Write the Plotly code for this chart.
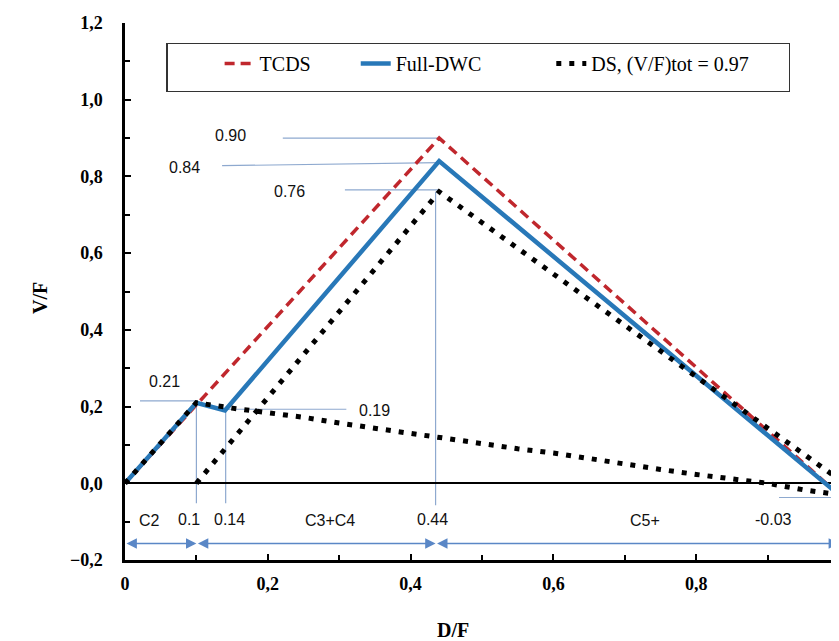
import plotly.graph_objects as go

# ---- data ----
tcds_x = [0.0, 0.44, 1.0]
tcds_y = [0.0, 0.90, -0.03]

dwc_x = [0.0, 0.10, 0.14, 0.44, 1.0]
dwc_y = [0.0, 0.21, 0.19, 0.84, -0.03]

# DS curve, two branches (separated by None)
ds_x = [0.0, 0.10, 0.15, 0.20, 0.25, 0.30, 0.35, 0.40, 0.45, 0.50, 0.55, 0.60,
        0.65, 0.70, 0.75, 0.80, 0.85, 0.90, 0.95, 1.0,
        None, 0.10, 0.44, 1.0]
ds_y = [0.0, 0.21, 0.196, 0.185, 0.172, 0.157, 0.145, 0.13, 0.117, 0.103, 0.09, 0.079,
        0.064, 0.049, 0.036, 0.023, 0.011, 0.0, -0.017, -0.03,
        None, 0.0, 0.76, 0.01]

series_names = ["TCDS", "Full-DWC", "DS, (V/F)tot = 0.97"]

# value callouts: (text, x, y)
value_labels = [("0.90", 0.148, 0.906), ("0.84", 0.084, 0.822), ("0.76", 0.231, 0.762),
                ("0.21", 0.056, 0.266), ("0.19", 0.350, 0.190),
                ("0.1", 0.090, -0.094), ("0.14", 0.146, -0.094), ("0.44", 0.431, -0.094),
                ("-0.03", 0.908, -0.094)]
region_labels = [("C2", 0.035, -0.097), ("C3+C4", 0.287, -0.097), ("C5+", 0.728, -0.097)]
region_bounds = [0.0, 0.10, 0.435, 1.0]

LINE_C = "#8EA9CF"
ARROW_C = "#5A87C6"
RED = "#C0272D"
BLUE = "#2878B8"
NB = "\u00a0"
pads = [8, 13, 7]  # trailing spacing inside the legend entries (layout only)

fig = go.Figure()
fig.add_trace(go.Scatter(x=tcds_x, y=tcds_y, mode="lines", name=series_names[0] + NB * pads[0],
                         line=dict(color=RED, width=3.5, dash="10px,6px")))
fig.add_trace(go.Scatter(x=dwc_x, y=dwc_y, mode="lines", name=series_names[1] + NB * pads[1],
                         line=dict(color=BLUE, width=4.5)))
fig.add_trace(go.Scatter(x=ds_x, y=ds_y, mode="lines", name=series_names[2] + NB * pads[2],
                         line=dict(color="black", width=5, dash="5px,8px")))

shapes = []
def seg(x0, y0, x1, y1):
    shapes.append(dict(type="line", xref="x", yref="y", x0=x0, y0=y0, x1=x1, y1=y1,
                       line=dict(color=LINE_C, width=1.2), layer="below"))

seg(0.221, 0.90, 0.44, 0.90)
seg(0.136, 0.828, 0.44, 0.836)
seg(0.308, 0.765, 0.44, 0.765)
seg(0.021, 0.215, 0.10, 0.215)
seg(0.14, 0.193, 0.31, 0.193)
seg(0.10, 0.21, 0.10, -0.052)
seg(0.141, 0.19, 0.141, -0.052)
seg(0.435, 0.76, 0.435, -0.057)
seg(0.916, -0.037, 1.0, -0.037)

annotations = []
for t, x, y in value_labels + region_labels:
    annotations.append(dict(x=x, y=y, xref="x", yref="y", text=t, showarrow=False,
                            font=dict(family="Liberation Sans", size=16, color="#111")))
for a, b in zip(region_bounds[:-1], region_bounds[1:]):
    annotations.append(dict(x=b, y=-0.157, ax=a, ay=-0.157, xref="x", yref="y",
                            axref="x", ayref="y", text="", showarrow=True,
                            arrowhead=2, startarrowhead=2, arrowside="end+start",
                            arrowsize=1.6, startarrowsize=1.6, arrowwidth=1.3,
                            arrowcolor=ARROW_C))
# axis titles, placed as in the reference
title_font = dict(family="Liberation Serif", size=20, color="black", weight="bold")
annotations.append(dict(x=0.459, y=-0.13, xref="paper", yref="paper", text="D/F",
                        showarrow=False, xanchor="center", yanchor="middle", font=title_font))
annotations.append(dict(x=-0.119, y=0.488, xref="paper", yref="paper", text="V/F",
                        textangle=-90, showarrow=False, xanchor="center", yanchor="middle",
                        font=title_font))

fig.update_layout(
    width=839, height=641,
    margin=dict(l=117, r=8, t=15, b=89),
    plot_bgcolor="white", paper_bgcolor="white",
    separators=",.",
    shapes=shapes, annotations=annotations,
    showlegend=True,
    legend=dict(orientation="h", x=0.058, y=0.963, xanchor="left", yanchor="top",
                bordercolor="#333", borderwidth=1.2, bgcolor="white",
                font=dict(family="Liberation Serif", size=20, color="black"),
                title=dict(text=NB * 6, side="left",
                           font=dict(family="Liberation Serif", size=28))),
    xaxis=dict(range=[0, 1], tickvals=[0, 0.2, 0.4, 0.6, 0.8, 1.0],
               ticktext=["0", "0,2", "0,4", "0,6", "0,8", "1"],
               ticks="inside", ticklen=6, tickwidth=2, tickcolor="black",
               minor=dict(dtick=0.1, ticks="inside", ticklen=5, tickwidth=2, tickcolor="black"),
               showline=True, linecolor="black", linewidth=2.5, showgrid=False, zeroline=False,
               tickfont=dict(family="Liberation Serif", size=18, color="black", weight="bold"),
               ticklabelstandoff=6, automargin=False),
    yaxis=dict(range=[-0.2, 1.2], dtick=0.2, tickformat=".1f",
               ticks="inside", ticklen=6, tickwidth=2, tickcolor="black",
               minor=dict(dtick=0.1, ticks="inside", ticklen=5, tickwidth=2, tickcolor="black"),
               showline=True, linecolor="black", linewidth=2.5, showgrid=False,
               zeroline=True, zerolinecolor="black", zerolinewidth=2,
               tickfont=dict(family="Liberation Serif", size=18, color="black", weight="bold"),
               ticklabelstandoff=16, automargin=False),
)

fig.write_html("out.html")
